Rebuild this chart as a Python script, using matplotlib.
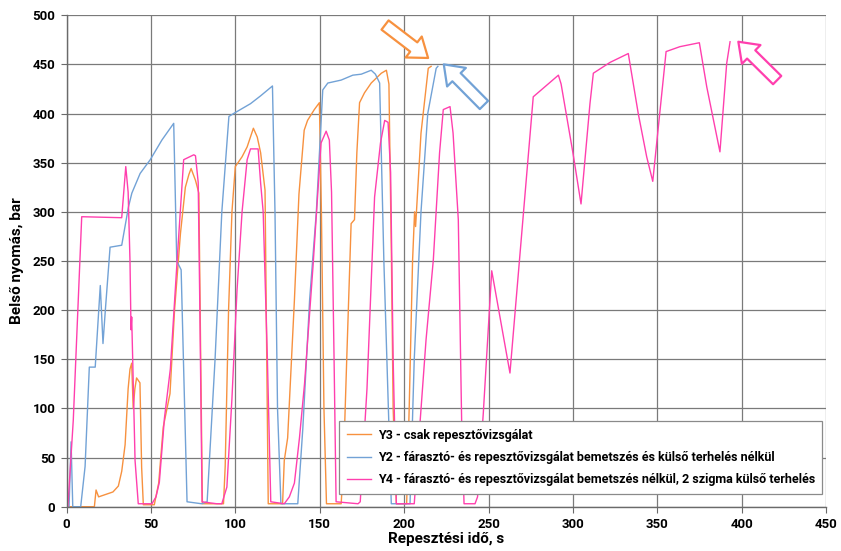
import matplotlib
matplotlib.use('Agg')
import matplotlib.pyplot as plt

plt.rcParams['font.family'] = ['Roboto', 'DejaVu Sans']
plt.rcParams['font.weight'] = 'bold'

# Y3 - csak repesztővizsgálat
y3_t = [0, 16.5, 17.5, 19, 27.5, 30.7, 32.7, 34.7, 36.5, 37.6, 38.6, 39.5, 40.5, 41.5, 43.5,
        44.5, 45.5, 52, 54.6, 57.3, 61.3, 64, 67.5, 70.4, 72.5, 73.8, 76.4, 78.4, 79.5, 80.5,
        93, 94, 96, 98, 100, 104, 107, 110.7, 113, 115, 117.6, 119.5, 128, 129, 131, 135,
        137.7, 140.8, 142.8, 146.8, 149.8, 151, 152.5, 154, 162.7, 164, 166, 168.6, 170.6, 172,
        173.6, 176.5, 180.5, 186.5, 189.5, 191, 192.5, 193.5, 195.4, 201.5, 203, 205, 206.2,
        206.8, 210, 214.3, 216]
y3_p = [0, 0, 17, 10, 15, 21, 36, 63, 120, 140, 146, 100, 120, 131, 126,
        40, 2, 2, 24, 81, 115, 200, 278, 325, 338, 344, 332, 319, 150, 3,
        3, 41, 200, 300, 346, 356, 366, 385, 376, 360, 322, 3, 3, 47, 70, 210,
        318, 383, 393, 404, 411, 300, 100, 3, 3, 40, 150, 288, 292, 360,
        411, 421, 431, 441, 444, 430, 250, 100, 3, 3, 100, 250, 300,
        285, 380, 446, 448]

# Y2 - fárasztó- és repesztővizsgálat bemetszés és külső terhelés nélkül
y2_t = [0, 1.5, 2.7, 3.7, 8.4, 11, 13.5, 17, 20, 21.6, 23, 25.8, 32.7, 36.7, 38.7, 43.6,
        49.6, 56.5, 63.5, 65.3, 67.9, 71.4, 80, 83.3, 88, 92, 96.2, 99, 104, 109, 115, 122,
        123.5, 125, 127, 137, 140, 144, 148, 151.8, 154.8, 162.7, 169.6, 174.6, 180.5, 183,
        185.5, 188, 192.4, 203.5, 206, 210, 214, 219, 220]
y2_p = [0, 0, 66, 0, 0, 41, 142, 142, 225, 166, 200, 264, 266, 305, 319, 339,
        353, 373, 390, 250, 241, 5, 3, 5, 150, 300, 397, 400, 405, 410, 418, 428,
        300, 100, 3, 3, 80, 210, 300, 424, 431, 434, 439, 440, 444, 440,
        431, 250, 3, 3, 150, 300, 400, 446, 448]

# Y4 - fárasztó- és repesztővizsgálat bemetszés nélkül, 2 szigma külső terhelés
y4_t = [0, 0.8, 4, 9, 32.7, 35.1, 36.5, 37.6, 38.2, 38.6, 39.2, 40.6, 42.5, 50.6, 53, 55,
        58, 61.5, 65.5, 69.4, 75.4, 76.4, 78, 79, 80.3, 89, 92, 95, 98, 101, 104, 107, 109,
        113.5, 115, 116.5, 119, 121, 129, 132, 135, 138, 141, 146, 150.8, 153.8, 155.7, 157,
        158.5, 159.7, 172.7, 174, 178, 182.5, 186, 188.5, 190.5, 192, 193.5, 195.4, 206,
        209.4, 213, 217.3, 221, 223.2, 227.2, 229, 232.1, 234.1, 235.5, 242, 243.5, 246.9,
        251.9, 262.7, 276.5, 291.4, 293, 300, 304.8, 310.1, 312.1, 322, 332.8, 338.7, 343.7,
        347.3, 355.2, 363.4, 374.9, 379.3, 387.1, 391.1, 393.1]
y4_p = [0, 0, 88, 295, 294, 346, 320, 250, 180, 193, 150, 47, 3, 3, 10, 25,
        90, 140, 250, 353, 358, 357, 330, 200, 5, 3, 3, 20, 110, 220, 300, 353, 364,
        364, 329, 300, 150, 5, 3, 10, 24, 70, 125, 244, 370, 382, 373, 320,
        150, 5, 3, 5, 120, 315, 370, 393, 391, 340, 150, 3, 3,
        85, 170, 251, 360, 404, 407, 380, 292, 85, 3, 3, 10, 95,
        240, 136, 417, 439, 430, 360, 308, 410, 441, 452, 461, 400, 356,
        331, 463, 468, 472, 427, 361, 451, 473]

labels = ['Y3 - csak repesztővizsgálat',
          'Y2 - fárasztó- és repesztővizsgálat bemetszés és külső terhelés nélkül',
          'Y4 - fárasztó- és repesztővizsgálat bemetszés nélkül, 2 szigma külső terhelés']
colors = ['#F7913F', '#72A2D6', '#FF3FAE']

fig = plt.figure(figsize=(8.41, 5.51), dpi=100)
ax = fig.add_axes([0.0791, 0.0804, 0.9032, 0.892])

ax.plot(y3_t, y3_p, color=colors[0], lw=1.0, label=labels[0])
ax.plot(y2_t, y2_p, color=colors[1], lw=1.0, label=labels[1])
ax.plot(y4_t, y4_p, color=colors[2], lw=1.0, label=labels[2])

ax.set_xlim(0, 450)
ax.set_ylim(0, 500)
ax.set_xticks(range(0, 451, 50))
ax.set_yticks(range(0, 501, 50))
ax.grid(True, color='#7a7a7a', lw=0.9)
ax.set_axisbelow(True)
for s in ['top', 'right']:
    ax.spines[s].set_visible(False)
for s in ['left', 'bottom']:
    ax.spines[s].set_color('#6a6a6a')
    ax.spines[s].set_linewidth(1.0)
ax.tick_params(axis='both', direction='out', length=4, color='#6a6a6a',
               labelsize=9.5, pad=4)
for lab in ax.get_xticklabels() + ax.get_yticklabels():
    lab.set_fontweight('bold')

ax.set_xlabel('Repesztési idő, s', fontsize=11, fontweight='bold', labelpad=1)
ax.set_ylabel('Belső nyomás, bar', fontsize=11, fontweight='bold', labelpad=6)

# hollow arrows pointing at the end of the curves
arrows = [((188.7, 490), (214.2, 456.5), colors[0]),
          ((247.3, 408.7), (223.5, 450.0), colors[1]),
          ((421.0, 434.0), (398.0, 473.0), colors[2])]
for tail, tip, c in arrows:
    ax.annotate('', xy=tip, xytext=tail,
                arrowprops=dict(arrowstyle='simple,head_length=0.65,head_width=0.95,tail_width=0.42',
                                mutation_scale=20, fc='white', ec=c, lw=1.6,
                                shrinkA=0, shrinkB=0))

leg = ax.legend(loc='lower right', bbox_to_anchor=(0.995, 0.026), borderaxespad=0,
                fancybox=False, framealpha=1, edgecolor='#8a8a8a',
                prop={'family': ['Roboto', 'DejaVu Sans'], 'weight': 'bold', 'size': 9},
                handlelength=1.9, handletextpad=0.55, labelspacing=0.75,
                borderpad=0.6)
leg.get_frame().set_linewidth(0.9)

fig.savefig('out.png', dpi=100)
